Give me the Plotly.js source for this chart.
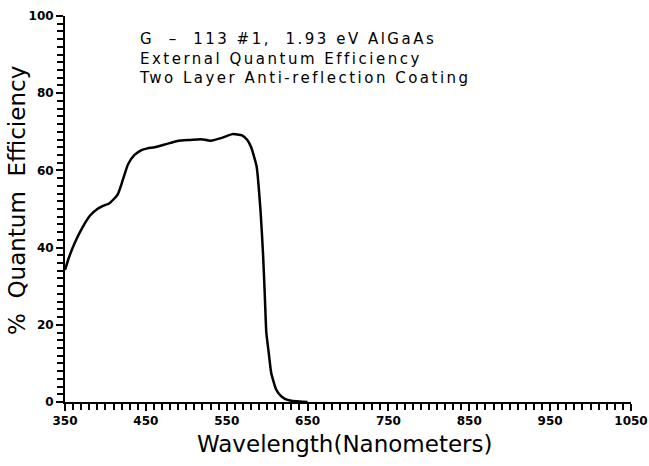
<!DOCTYPE html>
<html>
<head>
<meta charset="utf-8">
<script src="https://cdn.plot.ly/plotly-3.0.1.min.js"></script>
<style>html,body{margin:0;padding:0;background:#fff;}#chart{width:649px;height:466px;}</style>
</head>
<body>
<div id="chart"></div>
<script>
// Wavelength (nm) and external quantum efficiency (%)
const wavelength = [350, 355, 362, 371, 381, 390, 397, 405, 415, 421, 428, 436, 444, 452, 461, 475, 489, 505, 518, 530, 545, 557, 569, 575, 580, 587, 592, 595, 597, 599, 602, 605, 611, 616, 622, 630, 640, 650];
const efficiency = [34.2, 37.5, 41.2, 45.0, 48.3, 50.0, 50.8, 51.5, 53.7, 57.2, 61.6, 64.0, 65.2, 65.7, 66.0, 66.8, 67.6, 67.9, 68.1, 67.7, 68.5, 69.4, 69.1, 68.0, 66.1, 61.0, 49.0, 38.0, 28.2, 18.0, 12.7, 7.6, 3.3, 1.8, 0.8, 0.3, 0.1, 0.0];
const xTickStart = 350, xTickStep = 100, xMinorStep = 10;
const yTickStart = 0, yTickStep = 20, yMinorStep = 2;
const titleLines = [
  "G\u00a0\u00a0–\u00a0\u00a0113 #1,\u00a0\u00a01.93 eV AlGaAs",
  "External Quantum Efficiency",
  "Two Layer Anti-reflection Coating"
];
const xTitle = "Wavelength(Nanometers)";
const yTitle = "%\u00a0\u00a0Quantum\u00a0\u00a0Efficiency";

const W = 649, H = 466;
const margin = {l: 65, r: 18, t: 16, b: 64};
const pw = W - margin.l - margin.r, ph = H - margin.t - margin.b;
const px2x = p => (p - margin.l) / pw;
const py2y = p => (H - margin.b - p) / ph;

const font = "DejaVu Sans, sans-serif";
const annotations = [{
  text: titleLines.join('<br>'), xref: 'paper', yref: 'paper', x: px2x(138), y: py2y(59),
  xanchor: 'left', yanchor: 'middle', align: 'left', showarrow: false, borderpad: 0,
  font: {family: font, size: 15, color: 'black'}
}, {
  text: xTitle, xref: 'paper', yref: 'paper', x: px2x(345), y: py2y(444),
  xanchor: 'center', yanchor: 'middle', showarrow: false, borderpad: 0,
  font: {family: font, size: 23, color: 'black'}
}, {
  text: yTitle, xref: 'paper', yref: 'paper', x: px2x(17), y: py2y(201),
  xanchor: 'center', yanchor: 'middle', showarrow: false, textangle: -90,
  font: {family: font, size: 23, color: 'black'}
}];

Plotly.newPlot('chart', [{
  x: wavelength, y: efficiency, type: 'scatter', mode: 'lines',
  line: {color: 'black', width: 2.5, shape: 'spline', smoothing: 0.5},
  hoverinfo: 'skip'
}], {
  width: W, height: H, margin: margin, showlegend: false,
  xaxis: {
    range: [350, 1050], tick0: xTickStart, dtick: xTickStep,
    showline: true, linecolor: 'black', linewidth: 2, gridcolor: 'rgba(255,255,255,0)',
    ticks: 'outside', ticklen: 7, tickwidth: 2, tickcolor: 'black',
    tickfont: {family: font, size: 12, color: 'black', weight: 'bold'},
    minor: {ticks: 'outside', ticklen: 6, tickwidth: 2, tickcolor: 'black', dtick: xMinorStep}
  },
  yaxis: {
    range: [0, 100], tick0: yTickStart, dtick: yTickStep,
    showline: true, linecolor: 'black', linewidth: 2, gridcolor: 'rgba(255,255,255,0)',
    zerolinecolor: 'black', zerolinewidth: 2,
    ticks: 'outside', ticklen: 7, tickwidth: 2, tickcolor: 'black',
    tickfont: {family: font, size: 12, color: 'black', weight: 'bold'},
    minor: {ticks: 'outside', ticklen: 6, tickwidth: 2, tickcolor: 'black', dtick: yMinorStep}
  },
  annotations: annotations
}, {displayModeBar: false}).then(gd => {
  const t = gd.querySelectorAll('.annotation-text')[0];
  if (t) t.style.letterSpacing = '2.5px';
});
</script>
</body>
</html>
